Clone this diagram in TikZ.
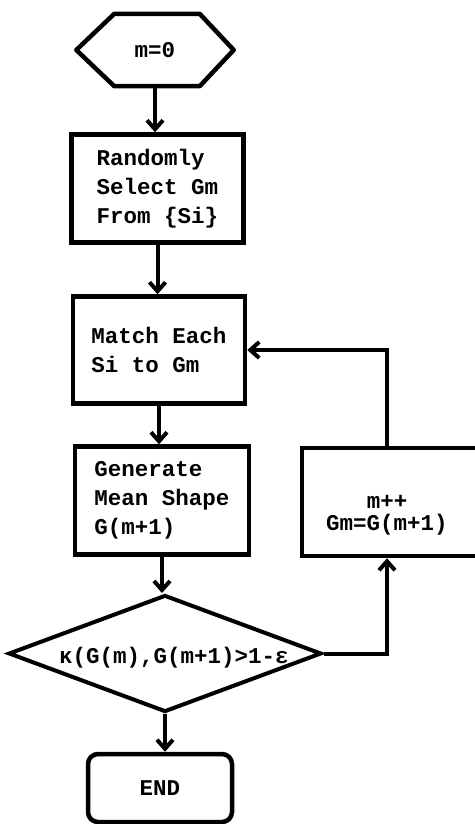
\documentclass[tikz,border=0pt]{standalone}
\usepackage{fontspec}
\setmonofont{Liberation Mono}
\usetikzlibrary{arrows.meta,shapes.geometric,calc}
\begin{document}
\begin{tikzpicture}[x=1pt,y=-1pt,
  every node/.style={font=\ttfamily\bfseries\fontsize{22.5}{29}\selectfont, inner sep=0pt},
  box/.style={draw, line width=4.5pt, rectangle, align=left},
  link/.style={line width=4pt, -{Straight Barb[length=9pt,width=16pt]}}]
\useasboundingbox (0,0) rectangle (474,824);

% start: hexagon
\node[minimum width=157pt, minimum height=72pt] (start) at (155,50) {m=0};
\draw[line width=4.5pt, line join=round]
  (start.west) -- ([xshift=38pt]start.north west) -- ([xshift=-34pt]start.north east)
  -- (start.east) -- ([xshift=-34pt]start.south east) -- ([xshift=38pt]start.south west) -- cycle;

% process steps
\node[box, minimum width=172pt, minimum height=108pt] (select) at (157.5,188.5)
  {Randomly\\Select Gm\\From \{Si\}};
\node[box, minimum width=172pt, minimum height=107pt] (match) at (159,350)
  {Match Each\\Si to Gm};
\node[box, minimum width=174pt, minimum height=108pt] (mean) at (162,500.5)
  {Generate\\Mean Shape\\G(m+1)};
\node[box, minimum width=176pt, minimum height=108pt] (update) at (390,502) {};
\node[align=center, font=\ttfamily\bfseries\fontsize{22.5}{22}\selectfont] (updatetxt) at (387,515)
  {m++\\Gm=G(m+1)};

% convergence test
\node[draw, diamond, line width=4pt, minimum width=313pt, minimum height=117pt] (test) at (165,653.5) {};
\node (testtxt) at (174,658) {κ(G(m),G(m+1)>1-ε};

% end
\node[draw, rounded corners=10pt, line width=4.5pt, minimum width=144pt, minimum height=68pt] (stop) at (160,788) {END};

% connectors
\draw[link] (start.south) -- (start.south |- select.north);
\draw[link] (select.south) -- (select.south |- match.north);
\draw[link] (match.south) -- (match.south |- mean.north);
\draw[link] (mean.south) -- (mean.south |- test.north);
\draw[link] (test.south) -- (test.south |- stop.north);
\draw[link] (test.east) -| ([xshift=-3pt]update.south);
\draw[link] ([xshift=-3pt]update.north) |- (match.east);
\end{tikzpicture}
\end{document}
